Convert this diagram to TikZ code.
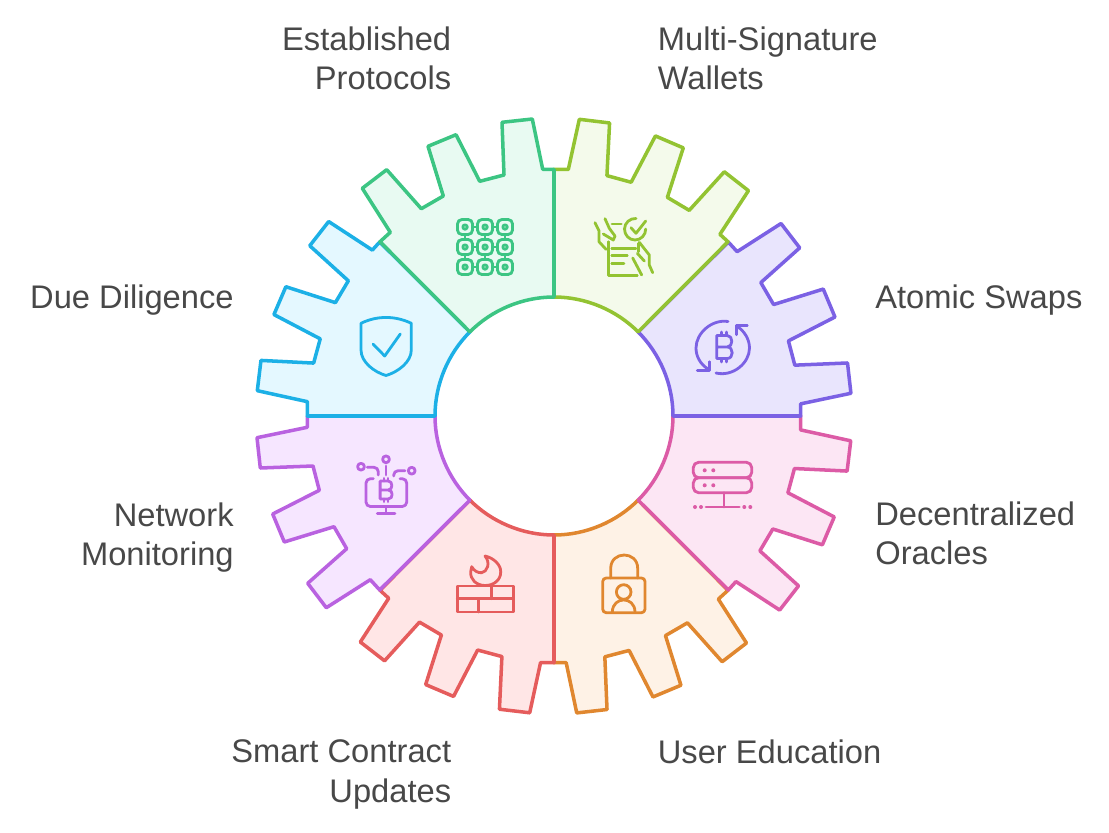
\documentclass[tikz,border=0pt]{standalone}
\usepackage{fontspec}
\setmainfont{Liberation Sans}

\definecolor{orangeline}{HTML}{E0872F}
\definecolor{orangefill}{HTML}{FEF2E6}
\definecolor{redline}{HTML}{E55C5C}
\definecolor{redfill}{HTML}{FFE6E6}
\definecolor{magentaline}{HTML}{B962E0}
\definecolor{magentafill}{HTML}{F6E6FF}
\definecolor{blueline}{HTML}{1CB0E6}
\definecolor{bluefill}{HTML}{E4F8FF}
\definecolor{pinkline}{HTML}{DC5BA6}
\definecolor{pinkfill}{HTML}{FCE6F4}
\definecolor{violetline}{HTML}{7B61E4}
\definecolor{violetfill}{HTML}{E9E5FD}
\definecolor{limeline}{HTML}{93C332}
\definecolor{limefill}{HTML}{F4FAEB}
\definecolor{greenline}{HTML}{3CC583}
\definecolor{greenfill}{HTML}{E8FAF2}
\definecolor{captiontext}{HTML}{484848}

\newcommand{\coinmark}[3]{
  \begin{scope}[shift={(#1,#2)},scale=#3]
    \draw (-7.5,0) -- (3,0) .. controls (9,0) and (9,-11.5) .. (3,-11.5) -- (-7.5,-11.5) -- (-7.5,11.5)
      -- (3,11.5) .. controls (9.5,11.5) and (9.5,0) .. (3,0);
    \foreach \x in {-2.5,2.5} {
      \draw (\x,-15) -- (\x,-11.5);
      \draw (\x,11.5) -- (\x,15);
    }
  \end{scope}
}

\begin{document}
\begin{tikzpicture}
  [
    x=0.02cm, y=-0.02cm,
    caption/.style={text=captiontext, font=\fontsize{18.6}{22.4}\selectfont, inner sep=0pt},
    icon/.style={line width=1.6pt, line cap=round, line join=round}
  ]
  \useasboundingbox (0,0) rectangle (1109,832);
  % gear sectors
  \foreach \sx/\sy/\rot/\spin/\tone in {-1/-1/0/0.2/orange,1/-1/0/0.5/red,-1/-1/-90/0/magenta,-1/1/-90/0.7/blue,
      1/-1/-90/0.6/pink,1/1/-90/0.2/violet,-1/1/0/0.7/lime,1/1/0/0/green} {
    \begin{scope}[shift={(554,416)},xscale=\sx,yscale=\sy,rotate=\rot]
      \draw [draw=\tone line,fill=\tone fill,line width=2pt,line join=round]
        (0,-119) -- (0,-246.7)
        \foreach \px/\py in {-11.3/-246.7,-21.7/-297,-52/-293.7,-50/-241,-74.3/-234.7,-98/-281.3,
            -126/-269.7,-110.7/-220,-132.7/-207.3,-167.3/-246.3,-191.7/-227.7,-163.7/-183.7} {
          -- ([rotate=\spin]\px,\py)
        }
        -- (-174,-174.3) -- (-84.1,-84.1)
        .. controls (-62.6,-105.7) and (-32,-119) .. (0,-119) -- cycle;
    \end{scope}
  }
  % grid icon
  \begin{scope}[icon,draw=greenline]
    \foreach \x in {465,485,505} {
      \foreach \y in {227,247,267} {
        \draw [rounded corners=2.5pt] (\x-7.5,\y-7.5) rectangle (\x+7.5,\y+7.5);
        \draw (\x,\y) circle (2.2);
      }
      \draw (\x,234.5) -- (\x,239.5);
      \draw (\x,254.5) -- (\x,259.5);
    }
    \foreach \y in {227,247,267} {
      \draw (472.5,\y) -- (477.5,\y);
      \draw (492.5,\y) -- (497.5,\y);
    }
  \end{scope}
  % contract icon
  \begin{scope}[icon,draw=limeline]
    \draw (636,218.5) .. controls (630,218) and (624.5,223) .. (624.5,229)
      .. controls (624.5,235) and (629,240) .. (635,240)
      .. controls (641,240) and (645.7,235) .. (645.7,229);
    \draw (631,227.7) -- (636,233.3) -- (645.7,221);
    \draw (612,224) -- (621.3,224);
    \draw (595,222.7) -- (599,230.7) -- (599,241.7) -- (606,249.3);
    \draw (605,218.7) -- (609.3,228.3) -- (615,236) -- (613.3,240) -- (603.3,234);
    \draw (608.3,241.7) -- (608.3,275.7) -- (637.3,275.7);
    \draw (638.3,243.3) -- (638.3,251.7);
    \draw (611.7,248.3) -- (636,248.3);
    \draw (611.7,255.7) -- (627.3,255.7);
    \draw (611.7,263.3) -- (624,263.3);
    \draw (639.3,242.3) -- (649.3,255) -- (649.3,265) -- (652.7,272.7);
    \draw (637.3,253.3) -- (644.3,261);
    \draw (632.7,258) -- (641.7,275);
  \end{scope}
  % swap icon
  \begin{scope}[icon,draw=violetline]
    \draw (728,321.5) .. controls (712,319) and (696,333) .. (696,348)
      .. controls (696,356) and (700,364) .. (708,369);
    \draw (697.3,370.3) -- (709.3,370.3) -- (709.3,361.7);
    \draw (716,373) .. controls (733,377) and (749.5,363) .. (749.5,348)
      .. controls (749.5,339) and (744,331) .. (738,327);
    \draw (747.3,325.7) -- (736.3,325.7) -- (736.3,334.7);
    \coinmark{724.3}{347}{1}
  \end{scope}
  % oracle icon
  \begin{scope}[icon,draw=pinkline]
    \draw [rounded corners=3pt] (693.3,462.3) rectangle (751.7,477.7);
    \draw [rounded corners=3pt] (693.3,477.7) rectangle (751.7,492.7);
    \draw (724,492.7) -- (724,507);
    \draw (706,507) -- (739.3,507);
    \foreach \x/\y in {704.7/470.3,713.3/470.3,704.7/485.3,713.3/485.3,695/507,701/507,744.3/507,750.3/507} {
      \fill [pinkline] (\x,\y) circle (2);
    }
  \end{scope}
  % lock icon
  \begin{scope}[icon,draw=orangeline]
    \draw [rounded corners=2pt] (602.7,578) rectangle (645,612.7);
    \draw (610.7,578) -- (610.7,568.5) .. controls (610.7,550.5) and (637.7,550.5) .. (637.7,568.5) -- (637.7,578);
    \draw (623.7,592) circle (7.3);
    \draw (612.3,611.7) .. controls (613,596) and (634.5,596) .. (635,611.7);
  \end{scope}
  % firewall icon
  \begin{scope}[icon,draw=redline]
    \draw (457.3,586) rectangle (513.3,612);
    \draw (457.3,598.7) -- (513.3,598.7);
    \draw (491.7,586) -- (491.7,598.7);
    \draw (478.7,598.7) -- (478.7,612);
    \draw (485,556) .. controls (494,558) and (501,565) .. (500.7,572)
      .. controls (500.7,580) and (494,585.5) .. (485,585.5)
      .. controls (476,585.5) and (470,579) .. (470.7,571.7) -- (471.7,566.7)
      .. controls (474,571) and (478,573) .. (481.7,572.7)
      .. controls (487,572) and (491,563) .. (485,556) -- cycle;
  \end{scope}
  % monitor icon
  \begin{scope}[icon,draw=magentaline]
    \draw [rounded corners=2.5pt] (373.3,478.7) -- (366,478.7) -- (366,506.5) -- (406.7,506.5) -- (406.7,478.7) -- (400,478.7);
    \draw (386,507) -- (386,513.3);
    \draw (377.3,513.3) -- (395,513.3);
    \coinmark{386}{490}{0.78}
    \draw (386,459.3) circle (3.4);
    \draw (361,466.7) circle (3.4);
    \draw (411.7,470.7) circle (3.4);
    \draw (386,466) -- (386,475);
    \draw [rounded corners=2.5pt] (367.3,467.3) -- (378.3,467.3) -- (378.3,475);
    \draw [rounded corners=2.5pt] (405,470.7) -- (393.7,470.7) -- (393.7,476);
  \end{scope}
  % shield icon
  \begin{scope}[icon,draw=blueline]
    \draw (361,323.3) .. controls (377,315.5) and (395,315.5) .. (411.3,323.3) -- (411.3,350)
      .. controls (411.3,362) and (398,372) .. (386,375.5)
      .. controls (374,372) and (361,362) .. (361,350) -- cycle;
    \draw (373,344) -- (384.7,356) -- (400.3,334);
  \end{scope}
  % labels
  \node [caption,anchor=east,align=right] (protocols) at (451.5,58.5) {Established\\Protocols};
  \node [caption,anchor=west,align=left] (wallets) at (657.5,58.5) {Multi-Signature\\Wallets};
  \node [caption,anchor=west] (swaps) at (875,300) {Atomic Swaps};
  \node [caption,anchor=west,align=left] (oracles) at (875,533.5) {Decentralized\\Oracles};
  \node [caption,anchor=west] (education) at (657.5,752) {User Education};
  \node [caption,anchor=east,align=right] (updates) at (451.5,774.5) {Smart Contract\\Updates};
  \node [caption,anchor=east,align=right] (monitoring) at (234,537.5) {Network\\Monitoring};
  \node [caption,anchor=east] (diligence) at (234,300) {Due Diligence};
\end{tikzpicture}
\end{document}
